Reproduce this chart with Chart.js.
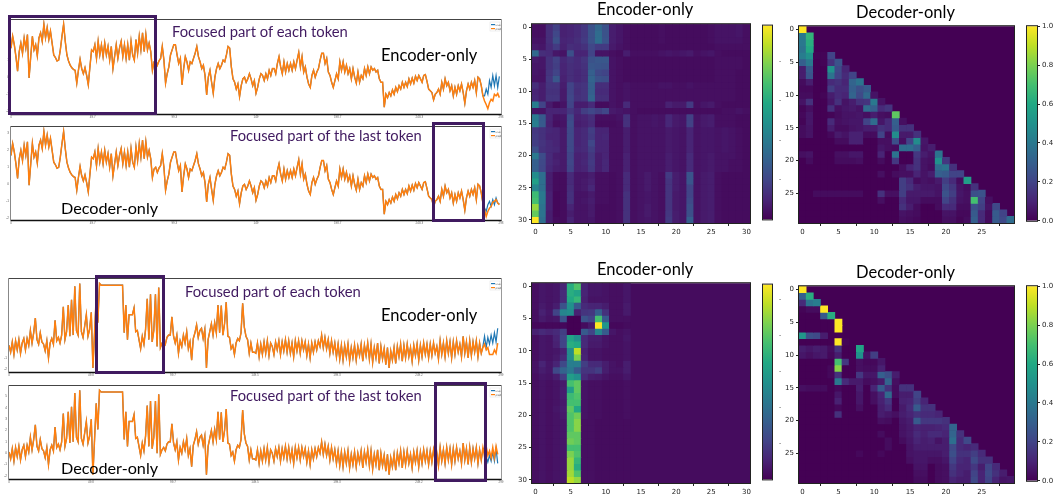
<!DOCTYPE html>
<html>
<head>
<meta charset="utf-8">
<title>Encoder-only vs Decoder-only</title>
<script src="https://cdn.jsdelivr.net/npm/chart.js@4"></script>
<style>
  html, body { margin: 0; padding: 0; background: #fff; }
  #page { position: relative; width: 1056px; height: 500px; overflow: hidden; }
  #page canvas { position: absolute; }
  .cap { position: absolute; font-family: Lato, sans-serif; line-height: 1; white-space: nowrap; z-index: 5; }
  .focus { position: absolute; box-sizing: border-box; border: 3px solid #401a60; z-index: 4; }
</style>
</head>
<body>
<div id="page"></div>
<script>
// line chart values, first 288 points are shared by both models of one dataset
const sharedTop = [
  1.7,2.4,1.9,1.2,0.35,1.5,2.0,1.4,2.3,1.7,
  2.5,-0.05,1.2,2.4,1.6,1.9,1.25,2.3,2.6,2.1,
  3.1,2.3,2.9,2.2,2.7,2.0,1.3,1.15,0.95,1.0,
  1.6,2.4,3.1,2.1,1.3,0.95,0.7,0.55,0.45,0.4,
  -0.35,0.4,1.05,0.5,0.2,0.55,0.1,-0.45,0.6,1.6,
  1.5,1.9,1.1,2.1,1.3,1.9,1.2,2.0,1.3,1.8,
  1.0,1.8,0.5,1.2,1.9,1.1,1.7,2.1,1.2,1.9,
  1.1,1.9,1.0,2.1,1.3,1.0,2.2,1.4,2.4,1.6,
  2.6,1.5,2.5,1.6,2.0,1.5,0.4,0.9,1.0,0.7,
  0.95,1.1,1.8,1.0,-0.35,0.2,0.6,1.3,1.6,1.9,
  1.9,1.3,0.8,1.1,-0.45,0.5,1.2,0.9,0.4,0.9,
  0.8,1.1,1.4,1.8,1.2,0.9,0.5,0.7,0.1,-1.04,
  0.0,0.4,-0.3,-0.94,0.0,0.5,0.8,0.5,0.7,1.0,
  0.9,1.3,1.8,1.7,0.6,-0.1,-0.3,-0.7,-0.4,-1.14,
  -0.5,-0.1,0.0,-0.3,-0.1,0.2,-0.1,-0.5,-0.2,-0.94,
  -0.6,-0.1,0.2,0.1,-0.2,0.2,-0.1,0.4,0.1,0.5,
  0.5,0.2,0.8,1.2,0.6,0.2,0.9,0.3,0.8,0.4,
  0.8,0.4,0.9,0.5,1.0,1.45,0.6,1.2,0.3,0.6,
  0.0,-0.4,-0.6,0.1,0.4,0.0,0.3,0.5,1.0,1.4,
  1.4,0.8,1.1,0.3,0.1,-0.3,-0.6,-0.2,0.2,-0.1,
  0.9,0.4,0.9,0.3,0.7,0.2,0.5,-0.1,0.5,0.0,
  -0.35,0.3,-0.3,0.1,-0.1,0.5,0.1,0.6,0.2,0.6,
  0.4,0.5,0.3,0.4,-0.1,-0.3,-0.3,-1.76,-1.0,-1.2,
  -0.9,-1.1,-0.75,-1.0,-0.6,-0.85,-0.5,-0.7,-0.3,-0.6,
  -0.3,-0.55,-0.1,-0.4,-0.05,-0.35,0.05,-0.2,0.1,-0.1,
  -0.3,0.1,0.15,-0.25,-0.7,-0.8,-0.9,-1.33,-1.0,-0.9,
  -0.7,-1.0,-0.3,-0.7,-0.1,-0.5,-0.3,-0.8,-0.5,-1.1,
  -0.6,-1.0,-0.5,-0.8,-0.4,-0.9,-1.53,-0.8,-0.4,-0.7,
  -0.3,-0.6,-0.2,-0.9,0.0,-0.1,-0.5,-1.1
];
const sharedBottom = [
  0.1,-0.5,0.4,-0.7,0.5,-0.3,0.6,-0.6,0.3,0.7,
  -0.3,0.7,0.1,1.4,0.3,1.2,2.5,0.6,0.2,1.2,
  0.4,0.2,-0.4,0.5,-1.0,0.3,0.7,0.2,2.3,0.5,
  0.8,0.3,1.0,3.5,0.6,1.3,3.65,0.9,4.1,1.0,
  5.3,1.4,1.0,5.55,1.3,0.8,1.8,2.8,0.9,1.5,
  3.0,-1.9,1.2,4.4,2.1,5.55,5.4,5.4,5.4,5.4,
  5.4,5.4,5.4,5.4,5.4,5.4,5.4,5.4,5.4,5.4,
  1.2,3.65,0.6,2.8,2.8,2.8,3.4,1.3,1.4,0.6,
  -0.2,0.9,0.2,1.5,4.2,0.6,4.6,0.4,1.4,4.6,
  0.0,5.2,-0.1,0.3,0.5,0.2,0.8,1.0,1.0,2.6,
  0.9,0.3,1.0,-0.6,0.5,0.0,1.0,0.3,1.3,-0.2,
  0.4,-1.2,0.7,1.2,1.9,0.8,1.4,1.6,0.7,1.5,
  -1.9,0.6,1.3,2.0,1.0,2.1,1.2,3.65,1.2,3.6,
  1.0,2.0,3.9,0.9,0.8,-0.2,0.1,-0.7,0.3,0.7,
  0.5,1.2,3.8,1.7,0.9,0.6,-0.6,0.3,-0.5,-0.5,
  -0.6,0.3,-0.9,0.2,-0.7,0.4,-0.6,0.5,-0.8,0.3,
  0.0,-0.7,0.4,-0.3,0.5,-0.7,0.4,-0.4,0.6,-0.5,
  0.5,-0.6,0.3,-0.9,0.5,-0.4,0.5,-0.6,0.5,-0.3,
  0.4,-0.8,0.2,-1.0,0.3,-0.5,0.4,-0.3,0.5,0.0,
  1.0,-0.1,0.8,-0.2,0.6,-0.6,0.5,-0.5,0.3,-0.9,
  0.2,-1.1,0.1,-1.2,0.1,-0.9,0.2,-1.3,-0.1,-1.0,
  0.1,-1.2,0.0,-0.8,0.2,-1.3,0.1,-0.8,0.3,-1.1,
  0.2,-1.4,-0.1,-1.0,0.3,-1.5,0.0,-1.1,-0.2,-1.6,
  -0.1,-1.9,-0.4,-1.2,-0.1,-1.5,0.0,-0.9,0.2,-1.3,
  0.1,-1.0,0.2,-0.9,-0.1,-1.3,0.1,-0.8,0.2,-1.2,
  0.1,-0.9,0.3,-0.7,0.2,-1.0,0.2,-0.8,0.3,-0.6,
  0.0,-1.1,0.5,-0.7,0.3,-0.9,0.5,-0.6,0.4,-1.0,
  0.4,-0.7,0.5,-0.5,0.2,-0.9,0.9,-0.6,0.4,-1.0,
  0.5,-0.8,0.4,-0.5,0.5,-0.9,0.3,-0.6
];
// last 10 points of each panel, where true and pred separate
const tailTrue1 = [-1.1,-0.7,-1.0,-0.2,-0.6,0.1,-0.5,0.1,-0.6,0.05];
const tailPred1 = [-1.4,-1.6,-1.85,-1.5,-1.3,-1.4,-1.0,-1.1,-0.95,-1.2];
const tailTrue2 = [-1.4,-1.6,-1.2,-1.0,-1.3,-0.9,-1.2,-0.8,-1.1,-1.15];
const tailPred2 = [-1.5,-1.9,-1.6,-1.4,-1.3,-1.05,-1.0,-0.9,-1.1,-1.2];
const tailTrue3 = [0.0,0.9,-0.1,0.8,0.2,1.0,0.3,1.2,0.4,1.6];
const tailPred3 = [-0.1,0.2,-0.3,-0.1,-0.7,-0.7,-0.7,-0.3,-0.6,0.3];
const tailTrue4 = [0.3,0.5,-0.3,-0.8,-0.2,-0.7,0.1,-0.7,0.4,-0.9];
const tailPred4 = [0.5,-0.3,0.6,-0.2,0.2,-0.4,0.5,-0.4,0.6,-0.1];

// heatmap cells, position on the colour bar in percent, rows cut where the rest is background
const encoderTop = [
  [4,4,13,19,9,10,12,16,25,33,25,8,6,4,3,3,3,3,4,3,3,3,3,3,3,4,5,5,5,6,4],
  [4,4,13,21,9,10,12,16,25,35,25,8,6,4,3,3,3,3,4,3,3,3,3,3,3,4,5,5,5,6,4],
  [5,5,13,24,10,11,13,17,25,36,26,8,6,4,3,3,3,3,4,3,3,3,3,3,3,4,5,5,5,5,4],
  [7,6,12,17,9,13,12,14,21,17,17,7,5,4,3,3,3,3,3,3,3,3,3,3,3,3,4,4,4,4,4],
  [34,13,12,6,5,24,10,10,20,5,5,4,3,8,4,4,4,4,5,6,5,6,7,4,5,6,4,3,3,3,3],
  [7,6,14,19,11,14,12,15,25,27,27,5,4,3,3,3,3,3,3,3,3,3,3,3,3,3,4,4,4,4,3],
  [6,6,14,18,10,13,12,14,27,26,25,5,4,3,3,3,3,3,3,3,3,3,3,3,3,3,4,4,4,4,3],
  [6,5,15,20,10,13,11,13,30,22,20,5,4,3,3,3,3,3,3,3,3,3,3,3,3,3,4,4,4,3,3],
  [5,5,16,27,9,13,11,13,32,25,24,5,4,3,3,3,3,3,3,3,3,3,3,3,3,3,4,4,4,3,3],
  [13,8,15,15,8,20,14,15,30,13,13,5,4,5,4,4,4,4,5,5,4,4,5,4,4,4,4,4,4,3,3],
  [10,8,14,14,7,20,13,15,30,12,12,5,4,5,4,4,4,4,4,4,4,4,4,4,4,4,4,4,4,3,3],
  [11,8,15,15,7,21,14,15,32,13,13,5,4,5,4,4,4,4,4,4,4,4,4,4,4,4,4,4,4,3,3],
  [42,20,7,3,5,20,8,8,12,3,3,5,4,12,4,4,4,4,4,9,7,7,17,4,6,7,4,3,3,3,3],
  [5,5,10,10,10,16,11,18,21,18,21,7,6,5,4,3,3,3,3,3,3,3,3,3,3,3,3,4,4,5,4],
  [40,28,10,5,6,22,9,10,13,4,4,4,5,14,4,5,5,6,5,11,7,6,19,5,7,8,4,4,4,3,3],
  [42,28,9,4,5,23,8,9,12,3,3,3,4,14,4,5,5,6,5,11,7,6,19,5,7,8,4,4,4,3,3],
  [16,14,11,10,7,22,10,12,18,10,10,4,4,8,4,5,5,5,5,7,6,5,10,5,6,6,5,6,5,4,3],
  [17,14,10,10,7,22,10,12,17,10,11,4,4,8,4,5,5,5,5,7,6,5,10,5,6,6,5,6,5,4,3],
  [18,15,12,10,7,22,10,12,21,10,10,4,4,8,4,5,5,5,5,7,6,5,10,5,6,6,5,6,5,4,3],
  [24,14,12,11,7,22,11,12,18,10,10,4,4,8,4,5,5,5,5,7,6,5,10,5,6,6,5,6,5,4,3],
  [40,23,12,8,7,20,9,10,16,8,10,4,4,9,4,5,5,5,5,8,6,5,12,5,6,7,5,5,5,4,3],
  [30,22,12,9,7,21,9,11,17,8,11,4,4,9,4,5,5,5,5,8,6,5,12,5,6,7,5,5,4,4,3],
  [30,21,11,8,7,20,9,10,16,8,11,4,4,9,4,5,5,5,5,8,6,5,12,5,6,7,5,5,4,4,3],
  [48,36,8,3,3,12,6,6,8,4,4,3,4,12,4,5,7,5,4,17,8,6,26,5,7,8,4,3,3,3,3],
  [56,36,8,3,3,12,6,7,9,4,4,3,4,12,4,5,7,5,4,15,8,6,26,5,7,8,4,3,3,3,3],
  [45,36,8,3,3,13,6,7,11,4,4,3,4,12,4,5,7,5,4,15,8,6,20,5,7,8,4,3,3,3,3],
  [68,40,9,2,3,14,5,5,7,4,4,3,4,14,4,5,6,5,4,15,7,6,20,5,7,8,4,3,3,3,3],
  [70,40,9,2,3,14,5,6,8,4,4,3,4,14,4,5,6,5,4,15,7,6,22,5,7,8,4,3,3,3,3],
  [84,38,9,2,3,10,5,5,7,3,3,3,4,14,4,5,7,5,4,15,7,6,24,5,7,8,4,3,3,3,3],
  [76,38,8,2,3,8,5,5,7,3,3,3,4,14,4,5,7,5,4,16,8,6,24,5,7,8,4,3,3,3,3],
  [100,36,8,3,3,10,5,5,6,3,3,3,4,14,4,5,6,5,4,17,8,6,30,5,7,8,4,3,3,3,3]
];
const encoderBottom = [
  [4,6,5,6,10,62,72,10,6,6,5,4,4,6],
  [4,6,5,6,12,62,58,10,6,6,5,4,4,6],
  [4,6,5,6,12,60,66,9,5,5,5,4,4,6],
  [4,7,5,8,25,50,28,12,10,10,8,4,4,7],
  [4,9,6,20,45,48,9,15,16,30,14,4,4,7],
  [4,7,5,6,25,0,0,25,20,70,28,4,4,4],
  [2,2,2,2,2,0,0,3,7,100,52,2,2,3],
  [9,12,10,12,18,0,0,28,20,45,28,6,4,5],
  [4,6,5,10,20,58,50,12,8,8,5,4,4,6],
  [4,6,5,9,20,62,60,12,7,7,5,4,4,5],
  [4,6,5,6,9,48,90,9,5,5,4,4,4,5],
  [4,6,5,7,12,48,80,10,5,5,4,4,4,5],
  [5,10,6,10,22,42,42,18,12,12,8,5,4,8],
  [5,8,6,22,32,40,28,15,15,18,8,5,5,8],
  [4,6,5,8,18,55,50,12,8,7,5,4,4,6],
  [4,5,4,5,7,70,75,5,4,4,3,3,3,4],
  [4,5,4,5,8,55,75,5,4,4,3,3,3,4],
  [4,5,4,5,8,68,72,5,4,4,3,3,3,4],
  [4,5,4,5,7,70,70,5,4,4,3,3,3,4],
  [4,5,4,6,8,75,60,5,4,4,3,3,3,4],
  [4,5,4,5,7,72,78,5,4,4,3,3,3,4],
  [4,5,4,5,6,72,82,4,4,3,3,3,3,3],
  [4,5,4,5,6,72,82,4,4,3,3,3,3,3],
  [4,5,4,5,6,75,75,4,4,3,3,3,3,3],
  [4,5,4,5,6,78,75,4,4,3,3,3,3,3],
  [4,5,4,5,6,70,70,4,4,3,3,3,3,3],
  [4,5,4,5,6,80,72,4,4,3,3,3,3,3],
  [4,5,4,5,6,84,66,4,4,3,3,3,3,3],
  [4,5,4,5,6,84,62,4,4,3,3,3,3,3],
  [4,5,4,5,6,86,72,4,4,3,3,3,3,3],
  [4,5,4,5,6,90,84,4,4,3,3,3,3,3]
];
const decoderTop = [
  [100],
  [40,65],
  [40,62],
  [38,60],
  [42,50,1,1,20],
  [30,40,0,1,14,25],
  [8,28,0,0,50,22,10],
  [8,26,0,0,38,20,12,20],
  [3,8,0,0,12,14,10,32,38],
  [2,2,0,0,18,12,12,30,24,28],
  [3,3,0,1,8,12,10,32,22,34,5],
  [5,14,0,0,6,14,5,8,14,15,40,5],
  [1,4,0,0,14,4,6,7,5,35,30,12,15],
  [2,6,0,0,1,3,5,5,6,4,8,4,3,75],
  [1,6,0,0,12,4,5,6,6,20,35,6,12,30,4],
  [3,5,0,0,8,3,3,5,6,8,8,14,12,28,14,14],
  [3,5,0,0,2,7,5,9,9,3,3,20,3,48,7,7,14],
  [0,0,0,0,0,3,3,9,9,0,0,4,4,24,4,20,48,6],
  [0,0,0,0,0,0,0,0,0,0,0,6,4,3,36,36,30,5,8],
  [4,5,0,0,0,4,4,6,6,0,0,10,0,38,0,0,16,8,5,38],
  [0,3,0,0,0,3,3,3,4,0,0,3,0,16,0,0,14,5,4,50,16],
  [0,0,0,0,0,0,0,0,0,0,0,0,0,0,4,10,14,5,3,35,38,14],
  [0,0,0,0,0,0,0,0,0,0,0,4,0,3,4,4,10,5,8,30,28,20,20],
  [0,0,0,0,0,0,0,0,0,0,0,0,0,0,18,12,3,5,4,7,18,12,3,55],
  [0,0,0,0,0,0,0,0,0,0,0,0,0,0,18,14,8,6,6,5,22,16,5,3,14],
  [0,0,3,3,3,3,3,3,3,0,0,14,4,4,18,7,7,7,7,5,25,18,6,4,24,25],
  [0,0,0,0,0,0,0,0,0,0,0,4,0,0,12,6,6,3,3,3,20,14,5,4,70,20,4],
  [0,0,0,0,0,0,0,0,0,0,0,0,0,0,14,8,3,0,0,3,12,12,3,3,24,18,5,22],
  [0,0,0,0,0,0,0,0,0,0,0,0,0,0,5,4,3,0,0,0,5,5,2,2,28,12,3,28,20],
  [0,0,0,0,0,0,0,0,0,0,0,0,0,0,4,3,2,0,0,0,4,4,1,3,30,12,3,28,22,35]
];
const decoderBottom = [
  [100],
  [30,62],
  [12,38,42],
  [1,3,3,100],
  [0,0,0,28,62],
  [0,0,0,0,0,100],
  [0,0,0,0,0,100],
  [52,24,22,8],
  [0,0,0,0,0,100,1],
  [8,6,8,7,3,14,0,0,58],
  [6,4,6,7,2,8,0,0,50,5,18],
  [0,0,0,0,0,70,16,0,4,2,2,6],
  [0,0,0,0,2,82,0,0,4,3,3,9],
  [0,0,0,0,2,14,0,0,16,6,6,30,24,8],
  [0,0,0,0,0,40,12,7,7,3,4,7,32,4],
  [4,3,3,3,0,2,0,0,8,0,10,28,14,3,14,14],
  [0,0,0,0,0,6,0,0,6,0,4,10,34,3,8,8,20],
  [0,0,0,0,0,9,0,0,6,0,4,9,16,0,9,10,18,10],
  [0,0,0,0,0,2,0,0,4,0,0,8,12,0,7,12,28,14,14],
  [0,0,0,0,0,14,0,0,0,0,0,8,6,4,8,10,14,12,12,10],
  [0,0,0,0,0,0,0,0,0,0,0,4,3,0,6,8,28,16,16,16,14],
  [0,0,0,0,0,0,0,0,0,0,0,0,0,0,5,7,10,9,9,10,12,32],
  [0,0,0,0,0,0,0,0,0,0,0,3,0,0,5,7,12,9,12,12,10,32,14],
  [0,0,0,0,0,0,0,0,0,0,0,0,3,0,3,6,10,8,9,5,8,36,12,22],
  [0,0,0,0,0,0,0,0,0,0,0,0,3,0,0,5,8,8,8,8,8,22,12,10,12],
  [0,0,0,0,0,0,0,0,2,0,0,2,0,0,0,5,6,6,6,6,8,24,14,14,18,12],
  [0,0,0,0,0,0,0,0,0,0,0,0,0,0,0,4,6,6,4,4,6,20,12,10,22,14,14],
  [0,0,0,0,0,0,0,0,0,0,0,0,0,0,0,0,5,5,0,3,4,16,10,10,16,8,20,12],
  [0,0,0,0,0,0,0,0,0,0,0,0,0,0,0,0,4,4,0,3,4,14,10,8,20,10,22,14,8],
  [0,0,0,0,0,0,0,0,0,0,0,0,0,0,0,0,3,3,0,3,4,10,8,8,22,10,20,10,5,6]
];

const heatTicks = [0, 5, 10, 15, 20, 25, 30];
const heatTicksDecoder = [0, 5, 10, 15, 20, 25];
const barTicks = [0.0, 0.2, 0.4, 0.6, 0.8, 1.0];
const viridisStops = ['#440154','#482475','#414487','#355f8d','#2a788e','#21918c','#22a884','#44bf70','#7ad151','#bddf26','#fde725'];

const BLUE = '#1f77b4';
const ORANGE = '#ff7f0e';
const INK = '#222222';
const PURPLE = '#401a60';
const page = document.getElementById('page');

function viridis(pct) {
  var pos = Math.min(pct, 100) / 10;
  var low = Math.min(Math.floor(pos), 9);
  var mix = pos - low;
  var a = viridisStops[low], b = viridisStops[low + 1];
  var out = [1, 3, 5].map(function (k) {
    var from = parseInt(a.substr(k, 2), 16);
    var to = parseInt(b.substr(k, 2), 16);
    return Math.round(from + (to - from) * mix);
  });
  return 'rgb(' + out.join(',') + ')';
}

function edge(ctx, x1, y1, x2, y2, color, width) {
  ctx.strokeStyle = color;
  ctx.lineWidth = width;
  ctx.beginPath();
  ctx.moveTo(x1, y1);
  ctx.lineTo(x2, y2);
  ctx.stroke();
}

// frame on all four sides, optional plot background and tiny corner legend
const framePlugin = {
  id: 'frame',
  beforeDatasetsDraw(chart, args, opts) {
    if (!opts.fill) return;
    var a = chart.chartArea;
    chart.ctx.save();
    chart.ctx.fillStyle = opts.fill;
    chart.ctx.fillRect(a.left, a.top, a.width, a.height);
    chart.ctx.restore();
  },
  afterDraw(chart, args, opts) {
    var a = chart.chartArea, ctx = chart.ctx;
    var l = a.left - 0.5, r = a.right + 0.5, t = a.top - 0.5, b = a.bottom + 0.5;
    ctx.save();
    if (opts.corner) {
      // the line panels have a heavy base line and pale sides
      edge(ctx, l, t, r, t, '#444444', 1);
      edge(ctx, l, b, r, b, '#111111', 1.3);
      edge(ctx, l, t, l, b, '#888888', 1);
      edge(ctx, r, t, r, b, '#999999', 1);
      var x = a.right - 11, y = a.top + 2;
      ctx.fillStyle = 'rgba(255,255,255,0.85)';
      ctx.strokeStyle = '#dddddd';
      ctx.lineWidth = 0.5;
      ctx.fillRect(x, y, 10, 9);
      ctx.strokeRect(x, y, 10, 9);
      ctx.font = '2.5px "DejaVu Sans"';
      chart.data.datasets.forEach(function (ds, i) {
        ctx.fillStyle = ds.borderColor;
        ctx.fillRect(x + 1, y + 2 + i * 4, 4, 1.2);
        ctx.fillStyle = '#555';
        ctx.fillText(ds.label, x + 5.5, y + 3.6 + i * 4);
      });
    } else {
      ctx.strokeStyle = INK;
      ctx.lineWidth = 1;
      ctx.strokeRect(l, t, r - l, b - t);
    }
    ctx.restore();
  }
};

function addCanvas(box, pad) {
  var c = document.createElement('canvas');
  c.width = box.r - box.l + pad.l + pad.r;
  c.height = box.b - box.t + pad.t + pad.b;
  c.style.left = (box.l - pad.l) + 'px';
  c.style.top = (box.t - pad.t) + 'px';
  c.style.width = c.width + 'px';
  c.style.height = c.height + 'px';
  page.appendChild(c);
  return c;
}

function linePanel(box, shared, tailTrue, tailPred, xMax, yMin, yMax, yLabels) {
  var pad = { l: 10, t: 4, r: 4, b: 6 };
  var overlap = shared.map(function (v, i) { return { x: i, y: v }; });
  function tail(arr) {
    return overlap.concat(arr.map(function (v, i) { return { x: shared.length + i, y: v }; }));
  }
  new Chart(addCanvas(box, pad), {
    type: 'line',
    data: {
      datasets: [
        { label: 'true', data: tail(tailTrue), borderColor: BLUE, borderWidth: 1.2, pointRadius: 0, order: 2 },
        { label: 'pred', data: tail(tailPred), borderColor: ORANGE, borderWidth: 1.5, pointRadius: 0, order: 1 }
      ]
    },
    options: {
      responsive: false,
      animation: false,
      devicePixelRatio: 1,
      layout: { padding: { left: 0, top: pad.t, right: pad.r, bottom: 0 } },
      plugins: { legend: { display: false }, tooltip: { enabled: false }, frame: { corner: true } },
      scales: {
        x: {
          type: 'linear', min: 0, max: xMax,
          afterFit(s) { s.height = pad.b; },
          ticks: { stepSize: 50, font: { size: 3 }, color: '#666', padding: 0, maxRotation: 0 },
          grid: { display: true, drawOnChartArea: false, tickLength: 1, color: INK },
          border: { display: false }
        },
        y: {
          min: yMin, max: yMax,
          afterFit(s) { s.width = pad.l; },
          afterBuildTicks(s) { s.ticks = yLabels.map(function (v) { return { value: v }; }); },
          ticks: { font: { size: 3 }, color: '#555', padding: 1 },
          grid: { display: true, drawOnChartArea: false, tickLength: 1, color: INK },
          border: { display: false }
        }
      }
    },
    plugins: [framePlugin]
  });
}

function heatPanel(box, rows, size, background, xTicks, yTicks) {
  var pad = { l: 22, t: 4, r: 4, b: 18 };
  var labels = [];
  for (var n = 0; n < size; n++) labels.push(n);
  var datasets = rows.map(function (row, r) {
    return {
      data: row.map(function (v, col) { return { x: col, y: [r - 0.5, r + 0.5] }; }),
      backgroundColor: row.map(viridis),
      grouped: false,
      barPercentage: 1,
      categoryPercentage: 1,
      borderWidth: 0
    };
  });
  var tickStyle = { font: { family: 'DejaVu Sans', size: 7 }, color: INK, padding: 2 };
  var gridStyle = { display: true, drawOnChartArea: false, tickLength: 3, color: INK };
  new Chart(addCanvas(box, pad), {
    type: 'bar',
    data: { labels: labels, datasets: datasets },
    options: {
      responsive: false,
      animation: false,
      devicePixelRatio: 1,
      layout: { padding: { left: 0, top: pad.t, right: pad.r, bottom: 0 } },
      plugins: { legend: { display: false }, tooltip: { enabled: false }, frame: { fill: viridis(background) } },
      scales: {
        x: {
          afterFit(s) { s.height = pad.b; },
          afterBuildTicks(s) { s.ticks = s.ticks.filter(function (t) { return xTicks.indexOf(t.value) >= 0; }); },
          ticks: Object.assign({ autoSkip: false, maxRotation: 0 }, tickStyle),
          grid: gridStyle,
          border: { display: false }
        },
        y: {
          reverse: true, min: -0.5, max: size - 0.5,
          afterFit(s) { s.width = pad.l; },
          afterBuildTicks(s) { s.ticks = yTicks.map(function (v) { return { value: v }; }); },
          ticks: tickStyle,
          grid: gridStyle,
          border: { display: false }
        }
      }
    },
    plugins: [framePlugin]
  });
}

function colorBar(box, maxValue, ticks, showLabels) {
  var pad = { l: 2, t: 4, r: 19, b: 4 };
  new Chart(addCanvas(box, pad), {
    type: 'bar',
    data: {
      labels: [''],
      datasets: [{
        data: [[0, maxValue]],
        barPercentage: 1,
        categoryPercentage: 1,
        borderWidth: 0,
        backgroundColor(ctx) {
          var area = ctx.chart.chartArea;
          if (!area) return viridisStops[0];
          var g = ctx.chart.ctx.createLinearGradient(0, area.bottom, 0, area.top);
          viridisStops.forEach(function (col, i) { g.addColorStop(i / (viridisStops.length - 1), col); });
          return g;
        }
      }]
    },
    options: {
      responsive: false,
      animation: false,
      devicePixelRatio: 1,
      layout: { padding: { left: pad.l, top: pad.t, right: 0, bottom: pad.b } },
      plugins: { legend: { display: false }, tooltip: { enabled: false }, frame: {} },
      scales: {
        x: { display: false },
        y: {
          position: 'right', min: 0, max: maxValue,
          afterFit(s) { s.width = pad.r; },
          afterBuildTicks(s) { s.ticks = ticks.map(function (v) { return { value: v }; }); },
          ticks: {
            font: { family: 'DejaVu Sans', size: showLabels ? 7 : 6 },
            color: showLabels ? INK : '#444',
            padding: showLabels ? 2 : 4,
            callback(v) { return showLabels ? v.toFixed(1) : '-'; }
          },
          grid: { display: showLabels, drawOnChartArea: false, tickLength: 3, color: INK },
          border: { display: false }
        }
      }
    },
    plugins: [framePlugin]
  });
}

linePanel({ l: 11, r: 501, t: 20, b: 114 }, sharedTop, tailTrue1, tailPred1, 298, -2.16, 3.35, [-2, -1, 0, 1]);
linePanel({ l: 11, r: 501, t: 127, b: 220 }, sharedTop, tailTrue2, tailPred2, 298, -2.1, 3.37, [-2, -1, 0, 1, 2, 3]);
linePanel({ l: 9, r: 501, t: 279, b: 372 }, sharedBottom, tailTrue3, tailPred3, 299, -2.25, 5.94, [-2, -1]);
linePanel({ l: 9, r: 501, t: 386, b: 479 }, sharedBottom, tailTrue4, tailPred4, 299, -2.28, 5.93, [-2, -1, 0, 1, 2, 3, 4, 5]);

heatPanel({ l: 532, r: 750, t: 22, b: 223 }, encoderTop, 31, 3, heatTicks, heatTicks);
heatPanel({ l: 799, r: 1014, t: 24, b: 223 }, decoderTop, 30, 0, heatTicksDecoder, heatTicksDecoder);
heatPanel({ l: 532, r: 750, t: 281, b: 483 }, encoderBottom, 31, 3, heatTicks, heatTicks);
heatPanel({ l: 799, r: 1014, t: 284, b: 483 }, decoderBottom, 30, 0, heatTicksDecoder, heatTicksDecoder);

colorBar({ l: 763, r: 772, t: 22, b: 223 }, 0.98, [0.2, 0.4, 0.6, 0.8], false);
colorBar({ l: 1027, r: 1037, t: 24, b: 223 }, 1.0, barTicks, true);
colorBar({ l: 763, r: 772, t: 281, b: 483 }, 1.08, [0.2, 0.4, 0.6, 0.8, 1.0], false);
colorBar({ l: 1027, r: 1037, t: 284, b: 483 }, 1.0, barTicks, true);

// annotations laid over the panels
const focusBoxes = [
  [8, 15, 157, 115],
  [432, 122, 485, 222],
  [95, 275, 165, 374],
  [434, 382, 487, 482]
];
focusBoxes.forEach(function (b) {
  var d = document.createElement('div');
  d.className = 'focus';
  d.style.left = b[0] + 'px';
  d.style.top = b[1] + 'px';
  d.style.width = (b[2] - b[0]) + 'px';
  d.style.height = (b[3] - b[1]) + 'px';
  page.appendChild(d);
});

const captions = [
  ['Focused part of each token', 172, 24, 14.8, PURPLE],
  ['Encoder-only', 381, 47, 16.5, '#000'],
  ['Focused part of the last token', 230, 128, 14.7, PURPLE],
  ['Decoder-only', 61, 200, 16.2, '#000'],
  ['Focused part of each token', 185, 284, 14.8, PURPLE],
  ['Encoder-only', 381, 307, 16.5, '#000'],
  ['Focused part of the last token', 230, 388, 14.7, PURPLE],
  ['Decoder-only', 61, 460, 16.2, '#000'],
  ['Encoder-only', 597, 1, 16.5, '#000'],
  ['Decoder-only', 856, 4, 16.5, '#000'],
  ['Encoder-only', 597, 261, 16.5, '#000'],
  ['Decoder-only', 856, 264, 16.5, '#000']
];
captions.forEach(function (t) {
  var d = document.createElement('div');
  d.className = 'cap';
  d.textContent = t[0];
  d.style.left = t[1] + 'px';
  d.style.top = t[2] + 'px';
  d.style.fontSize = t[3] + 'px';
  d.style.color = t[4];
  page.appendChild(d);
});
</script>
</body>
</html>
